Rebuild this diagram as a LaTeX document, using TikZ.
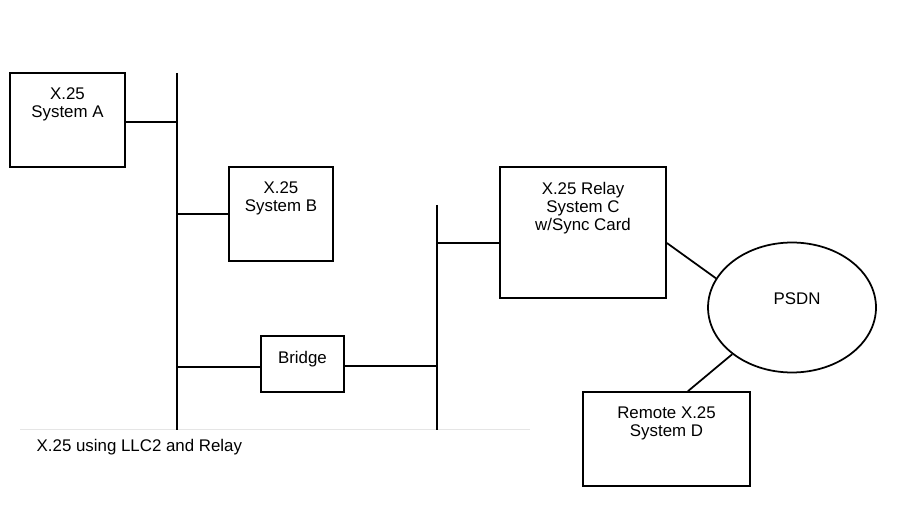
\documentclass[tikz,border=0pt]{standalone}
\usepackage{fontspec}
\setmainfont{Liberation Sans}
\usetikzlibrary{shapes.geometric}

\tikzset{every node/.style={font=\fontsize{9.6}{10.2}\selectfont},
box/.style={draw,rectangle,line width=1pt,inner sep=0pt},
boxtext/.style={below,align=center,inner sep=0.3cm}}

\begin{document}
\begin{tikzpicture}[x=0.02cm,y=-0.02cm,line width=1pt]
\useasboundingbox (0,0) rectangle (911,509);
\path
(67.5,120) node[box,minimum width=2.3cm,minimum height=1.88cm,label={[boxtext]north:X.25\\System A}](sysa){}
(281,214) node[box,minimum width=2.08cm,minimum height=1.88cm,label={[boxtext]north:X.25\\System B}](sysb){}
(302.5,364) node[box,minimum width=1.66cm,minimum height=1.12cm,label={[boxtext]north:Bridge}](bridge){}
(583,232.5) node[box,minimum width=3.32cm,minimum height=2.62cm,label={[boxtext]north:X.25 Relay\\System C\\w/Sync Card}](sysc){}
(666.5,439) node[box,minimum width=3.34cm,minimum height=1.88cm,label={[boxtext]north:Remote X.25\\System D}](sysd){}
(792,307.5) node[draw,ellipse,line width=1pt,minimum width=3.36cm,minimum height=2.6cm,label={[xshift=0.1cm,yshift=0.18cm]center:PSDN}](psdn){}
(30,447) node[anchor=west](caption){X.25 using LLC2 and Relay};
\coordinate (bus1top) at (177,73);
\coordinate (bus1bot) at (177,430);
\coordinate (bus2top) at (437,205);
\coordinate (bus2bot) at (437,430);
\coordinate (ruleleft) at (20,429);
\coordinate (ruleright) at (530,429);
\path[draw,color=black!10,line width=0.5pt] (ruleleft)--(ruleright);
\path[draw] (bus1top)--(bus1bot);
\path[draw] (bus2top)--(bus2bot);
\path[draw] ([yshift=-0.04cm]sysa.east)--([yshift=-0.04cm]sysa.east -| bus1top);
\path[draw] (sysb.west)--(sysb.west -| bus1top);
\path[draw] ([yshift=-0.06cm]bridge.west)--([yshift=-0.06cm]bridge.west -| bus1top);
\path[draw] ([yshift=-0.04cm]bridge.east)--([yshift=-0.04cm]bridge.east -| bus2top);
\path[draw] ([yshift=-0.21cm]sysc.west)--([yshift=-0.21cm]sysc.west -| bus2top);
\path[draw] ([yshift=-0.21cm]sysc.east)--(psdn.159);
\path[draw] (psdn.218)--([xshift=0.43cm]sysd.north);
\end{tikzpicture}
\end{document}
